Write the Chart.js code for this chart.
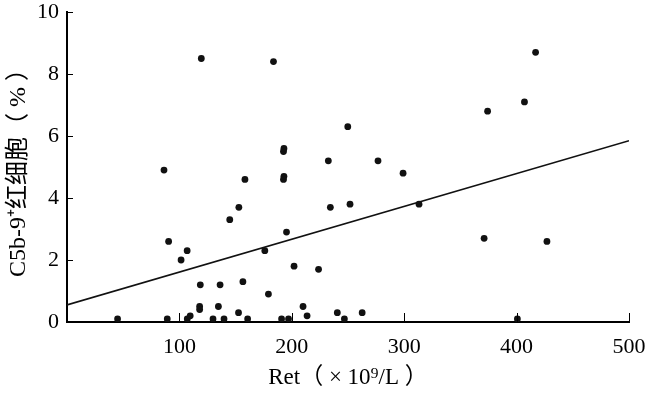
<!DOCTYPE html>
<html>
<head>
<meta charset="utf-8">
<script src="https://cdn.jsdelivr.net/npm/chart.js@4/dist/chart.umd.min.js"></script>
<style>
  html, body { margin: 0; padding: 0; background: #fff; }
  #wrap { width: 645px; height: 396px; }
</style>
</head>
<body>
<div id="wrap"><canvas id="scatterCanvas"></canvas></div>
<script>
// Ret (x10^9/L) vs C5b-9+ red cells (%)
const retValues = [
    45, 86.3, 89.2, 90.4, 101.5, 106.9, 107, 109.6, 118.6, 118, 118, 119.5,
    129.9, 134.7, 136.2, 139.7, 144.8, 152.9, 152.6, 156.5, 158.3, 160.7,
    176, 179.2, 183.7, 190.9, 192.6, 193, 192.6, 193, 195.3, 197.1, 202,
    210, 213.6, 223.8, 232.5, 234.3, 240.5, 246.8, 249.8, 251.8, 262.6,
    276.7, 299, 313.2, 371.1, 374.2, 400.7, 407, 416.9, 427
];
const c5b9Values = [
    0.1, 4.9, 0.1, 2.6, 2.0, 2.3, 0.1, 0.2, 1.2, 0.5, 0.4, 8.5,
    0.1, 0.5, 1.2, 0.1, 3.3, 3.7, 0.3, 1.3, 4.6, 0.1,
    2.3, 0.9, 8.4, 0.1, 5.5, 5.6, 4.6, 4.7, 2.9, 0.1, 1.8,
    0.5, 0.2, 1.7, 5.2, 3.7, 0.3, 0.1, 6.3, 3.8, 0.3,
    5.2, 4.8, 3.8, 2.7, 6.8, 0.1, 7.1, 8.7, 2.6
];
// fitted line
const fitX = [0, 500];
const fitY = [0.55, 5.85];
const xTicks = [100, 200, 300, 400, 500];
const yTicks = [0, 2, 4, 6, 8, 10];

const fontFamily = "'Liberation Serif', 'Times New Roman', 'Noto Sans CJK SC', serif";

// small tick marks pointing into the plot
const innerTicks = {
    id: "innerTicks",
    afterDraw(chart) {
        const ctx = chart.ctx;
        const xs = chart.scales.x;
        const ys = chart.scales.y;
        ctx.save();
        ctx.strokeStyle = "#000";
        ctx.lineWidth = 1;
        xTicks.forEach(v => {
            const px = Math.round(xs.getPixelForValue(v)) + 0.5;
            ctx.beginPath();
            ctx.moveTo(px, ys.bottom);
            ctx.lineTo(px, ys.bottom - 9);
            ctx.stroke();
        });
        yTicks.forEach(v => {
            const py = Math.round(ys.getPixelForValue(v)) + 0.5;
            ctx.beginPath();
            ctx.moveTo(xs.left, py);
            ctx.lineTo(xs.left + 6, py);
            ctx.stroke();
        });
        ctx.restore();
    }
};

const points = retValues.map((x, i) => ({ x: x, y: c5b9Values[i] }));
const fitLine = fitX.map((x, i) => ({ x: x, y: fitY[i] }));

new Chart(document.getElementById("scatterCanvas"), {
    type: "scatter",
    data: {
        datasets: [
            {
                data: points,
                backgroundColor: "#111",
                borderColor: "#111",
                pointRadius: 3.4,
                pointBorderWidth: 0
            },
            {
                data: fitLine,
                showLine: true,
                borderColor: "#111",
                borderWidth: 1.6,
                pointRadius: 0
            }
        ]
    },
    options: {
        responsive: true,
        maintainAspectRatio: false,
        animation: false,
        layout: { padding: { left: 0, right: 16, top: 12, bottom: 0 } },
        plugins: { legend: { display: false }, tooltip: { enabled: false } },
        scales: {
            x: {
                type: "linear",
                min: 0,
                max: 500,
                afterFit(scale) {
                    scale.height = 74;
                    scale.paddingLeft = 0;
                    scale.paddingRight = 0;
                },
                afterBuildTicks(scale) { scale.ticks = xTicks.map(v => ({ value: v })); },
                grid: { display: false, drawTicks: false },
                border: { color: "#000", width: 2 },
                ticks: {
                    color: "#000",
                    padding: 12,
                    font: { family: fontFamily, size: 22 }
                },
                title: {
                    display: true,
                    text: "Ret（ × 10⁹/L ）",
                    color: "#000",
                    padding: { top: 0, bottom: 4 },
                    font: { family: fontFamily, size: 23 }
                }
            },
            y: {
                type: "linear",
                min: 0,
                max: 10,
                afterFit(scale) {
                    scale.width = 67;
                    scale.paddingTop = 0;
                    scale.paddingBottom = 0;
                },
                afterBuildTicks(scale) { scale.ticks = yTicks.map(v => ({ value: v })); },
                grid: { display: false, drawTicks: false },
                border: { color: "#000", width: 2 },
                ticks: {
                    color: "#000",
                    padding: 8,
                    font: { family: fontFamily, size: 22 }
                },
                title: {
                    display: true,
                    text: "C5b-9⁺红细胞（ % ）",
                    color: "#000",
                    padding: { top: 4, bottom: 0 },
                    font: { family: fontFamily, size: 24 }
                }
            }
        }
    },
    plugins: [innerTicks]
});
</script>
</body>
</html>
